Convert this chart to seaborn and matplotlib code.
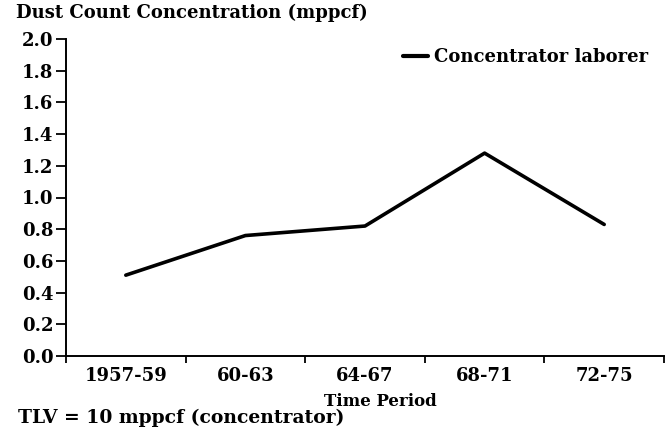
import matplotlib
matplotlib.use("Agg")
import matplotlib.pyplot as plt
import seaborn as sns
import pandas as pd

periods = ["1957-59", "60-63", "64-67", "68-71", "72-75"]
dust_mppcf = [0.51, 0.76, 0.82, 1.28, 0.83]
series_name = "Concentrator laborer"
y_ticks = [0.0, 0.2, 0.4, 0.6, 0.8, 1.0, 1.2, 1.4, 1.6, 1.8, 2.0]

sns.set_style("ticks")
plt.rcParams["font.family"] = ["DejaVu Serif"]
plt.rcParams["font.weight"] = "bold"
for key in ["text.color", "axes.labelcolor", "xtick.color", "ytick.color", "axes.edgecolor"]:
    plt.rcParams[key] = "black"

df = pd.DataFrame({"period": periods, "dust": dust_mppcf, "series": series_name})

fig = plt.figure(figsize=(6.72, 4.34), dpi=100)
ax = fig.add_axes([66 / 672, 1 - 356 / 434, 598 / 672, 317 / 434])

sns.lineplot(
    data=df,
    x="period",
    y="dust",
    hue="series",
    palette=["black"],
    linewidth=2.6,
    sort=False,
    ax=ax
)

ax.set_xlim(-0.5, len(periods) - 0.5)
ax.set_ylim(0, 2.0)
ax.set_yticks(y_ticks)
ax.set_yticklabels([f"{v:.1f}" for v in y_ticks], fontsize=13, fontweight="bold")
ax.set_xticks(range(len(periods)))
ax.set_xticklabels(periods, fontsize=13, fontweight="bold")
ax.tick_params(axis="x", which="major", length=0, pad=8)
ax.set_xticks([i - 0.5 for i in range(len(periods) + 1)], minor=True)
ax.tick_params(axis="x", which="minor", length=5, width=1.3, direction="out")
ax.tick_params(axis="y", length=7, width=1.3, pad=2)

for side in ["top", "right"]:
    ax.spines[side].set_visible(False)
for side in ["left", "bottom"]:
    ax.spines[side].set_linewidth(1.4)
    ax.spines[side].set_color("black")

ax.set_xlabel("")
ax.set_ylabel("")

leg = ax.legend(
    loc="upper right",
    bbox_to_anchor=(1.0, 1.022),
    frameon=False,
    handlelength=1.4,
    handletextpad=0.3,
    prop={"size": 13, "weight": "bold"}
)
for line in leg.get_lines():
    line.set_linewidth(3)

fig.text(16 / 672, 1 - 13 / 434, "Dust Count Concentration (mppcf)",
         fontsize=13, fontweight="bold", va="center", ha="left")
fig.text(380 / 672, 1 - 402 / 434, "Time Period",
         fontsize=12, fontweight="bold", va="center", ha="center")
fig.text(18 / 672, 1 - 418 / 434, "TLV = 10 mppcf (concentrator)",
         fontsize=13.5, fontweight="bold", va="center", ha="left")

fig.savefig("out.png", dpi=100)
plt.close(fig)
